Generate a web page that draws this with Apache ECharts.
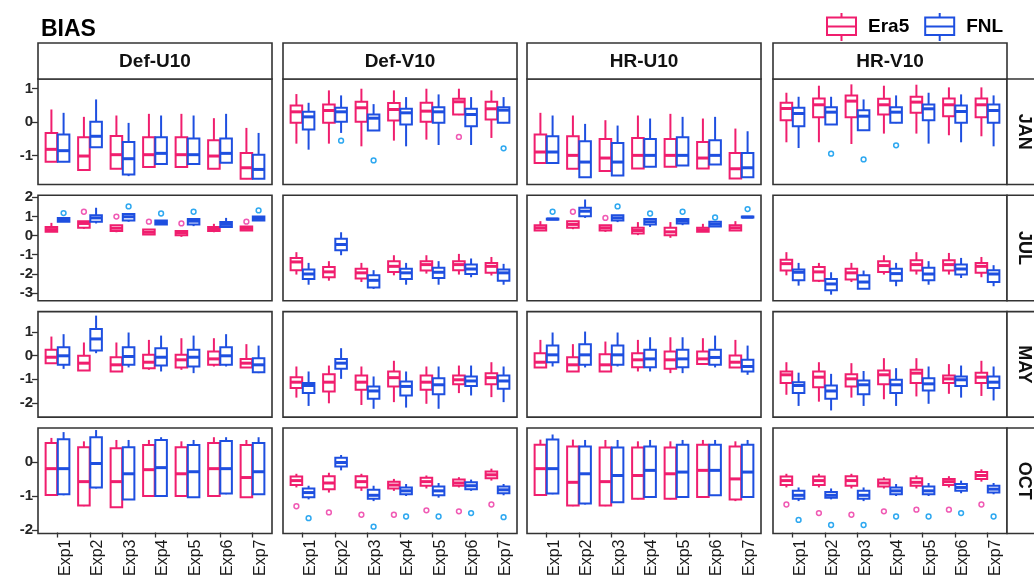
<!DOCTYPE html>
<html><head><meta charset="utf-8">
<script src="https://cdn.jsdelivr.net/npm/echarts@6/dist/echarts.min.js"></script>
<style>html,body{margin:0;padding:0;background:#fff}#c{width:1034px;height:579px}</style>
</head><body><div id="c"></div>
<script>
// ---------------- data ----------------
const experiments = ['Exp1','Exp2','Exp3','Exp4','Exp5','Exp6','Exp7'];
const variables = ['Def-U10','Def-V10','HR-U10','HR-V10'];
const months = ['JAN','JUL','MAY','OCT'];
const seriesNames = ['Era5','FNL'];
const yTicksJAN = [-1,0,1];
const yTicksJUL = [-3,-2,-1,0,1,2];
const yTicksMAY = [-2,-1,0,1];
const yTicksOCT = [-2,-1,0];
// each box: [lower whisker, Q1, median, Q3, upper whisker]
const jan_defu10_era5 = [[-1.2,-1.19,-0.82,-0.33,0.37],[-1.45,-1.44,-1.02,-0.46,0.15],[-1.41,-1.40,-0.98,-0.42,0.19],[-1.36,-1.35,-0.98,-0.46,0.24],[-1.36,-1.35,-0.98,-0.46,0.24],[-1.41,-1.40,-1.02,-0.55,0.11],[-1.71,-1.70,-1.37,-0.93,-0.18]];
const jan_defu10_fnl = [[-1.2,-1.19,-0.86,-0.38,0.27],[-0.78,-0.76,-0.43,0.0,0.67],[-1.62,-1.57,-1.1,-0.6,-0.03],[-1.27,-1.26,-0.94,-0.46,0.19],[-1.27,-1.26,-0.98,-0.5,0.19],[-1.23,-1.22,-0.94,-0.5,0.24],[-1.71,-1.70,-1.42,-0.98,-0.33]];
const jan_defv10_era5 = [[-0.65,-0.03,0.30,0.49,0.83],[-0.65,-0.03,0.34,0.52,0.94],[-0.73,0.0,0.42,0.60,0.99],[-0.56,0.04,0.37,0.56,0.94],[-0.53,0.0,0.32,0.57,0.99],[0.2,0.22,0.60,0.69,0.99],[-0.48,0.07,0.39,0.60,0.94]];
const jan_defv10_fnl = [[-0.83,-0.23,0.15,0.30,0.57],[-0.33,0.0,0.30,0.42,0.79],[-0.27,-0.26,0.11,0.22,0.53],[-0.73,-0.08,0.27,0.39,0.74],[-0.69,-0.03,0.30,0.44,0.82],[-0.69,-0.13,0.22,0.39,0.74],[-0.04,-0.03,0.35,0.44,0.74]];
const jan_hru10_era5 = [[-1.24,-1.23,-0.90,-0.38,0.27],[-1.41,-1.40,-1.0,-0.43,0.19],[-1.48,-1.47,-1.08,-0.51,0.05],[-1.40,-1.39,-1.0,-0.48,0.19],[-1.35,-1.34,-1.0,-0.51,0.24],[-1.40,-1.39,-1.08,-0.60,0.10],[-1.70,-1.69,-1.40,-0.93,-0.20]];
const jan_hru10_fnl = [[-1.24,-1.23,-0.90,-0.43,0.19],[-1.66,-1.65,-1.20,-0.58,-0.06],[-1.61,-1.60,-1.20,-0.63,-0.11],[-1.35,-1.34,-1.0,-0.51,0.10],[-1.31,-1.30,-1.0,-0.46,0.15],[-1.28,-1.27,-1.0,-0.55,0.15],[-1.66,-1.65,-1.37,-0.93,-0.28]];
const jan_hrv10_era5 = [[-0.61,0.05,0.40,0.57,0.87],[-0.61,0.14,0.51,0.70,1.08],[-0.66,0.14,0.62,0.79,1.12],[-0.35,0.22,0.51,0.69,1.08],[-0.35,0.27,0.59,0.75,1.11],[-0.40,0.17,0.51,0.70,1.03],[-0.43,0.14,0.51,0.70,1.03]];
const jan_hrv10_fnl = [[-0.78,-0.13,0.25,0.42,0.75],[-0.09,-0.08,0.29,0.44,0.75],[-0.26,-0.25,0.17,0.35,0.67],[-0.04,-0.03,0.29,0.44,0.79],[-0.65,0.05,0.39,0.52,0.87],[-0.61,-0.03,0.31,0.49,0.82],[-0.73,-0.03,0.34,0.52,0.79]];

const jul_defu10_era5 = [[0.19,0.19,0.31,0.45,0.66],[0.35,0.40,0.63,0.75,0.75],[0.17,0.23,0.38,0.54,0.54],[0.05,0.05,0.17,0.31,0.31],[-0.07,0.02,0.14,0.24,0.24],[0.17,0.23,0.35,0.45,0.61],[0.26,0.26,0.37,0.47,0.47]];
const jul_defu10_fnl = [[0.72,0.72,0.82,0.92,0.92],[0.63,0.72,0.92,1.06,1.45],[0.72,0.79,0.98,1.12,1.13],[0.58,0.58,0.68,0.79,0.79],[0.49,0.58,0.75,0.86,0.86],[0.45,0.45,0.58,0.70,0.92],[0.79,0.79,0.89,0.99,0.99]];
const jul_defv10_era5 = [[-2.04,-1.81,-1.38,-1.17,-0.87],[-2.36,-2.18,-1.90,-1.64,-1.34],[-2.43,-2.25,-1.95,-1.73,-1.43],[-2.08,-1.90,-1.61,-1.34,-1.03],[-1.99,-1.83,-1.52,-1.34,-1.03],[-2.04,-1.81,-1.52,-1.34,-0.96],[-2.09,-1.95,-1.61,-1.43,-1.12]];
const jul_defv10_fnl = [[-2.57,-2.27,-2.01,-1.78,-1.43],[-1.03,-0.77,-0.47,-0.17,0.17],[-2.79,-2.71,-2.34,-2.08,-1.81],[-2.57,-2.27,-1.95,-1.73,-1.43],[-2.57,-2.22,-1.92,-1.69,-1.34],[-2.18,-2.01,-1.75,-1.52,-1.20],[-2.57,-2.36,-1.95,-1.78,-1.48]];
const jul_hru10_era5 = [[0.26,0.26,0.40,0.54,0.75],[0.33,0.40,0.58,0.75,0.75],[0.19,0.26,0.40,0.54,0.54],[0.02,0.10,0.26,0.40,0.70],[-0.12,0.02,0.19,0.40,0.70],[0.19,0.19,0.30,0.40,0.61],[0.26,0.26,0.40,0.54,0.75]];
const jul_hru10_fnl = [[0.82,0.83,0.86,0.88,0.88],[0.92,1.01,1.27,1.45,1.88],[0.70,0.79,0.92,1.06,1.06],[0.45,0.58,0.72,0.86,0.86],[0.54,0.63,0.75,0.86,0.86],[0.47,0.47,0.59,0.72,0.72],[0.93,0.94,0.96,0.99,0.99]];
const jul_hrv10_era5 = [[-2.08,-1.83,-1.47,-1.26,-0.87],[-2.43,-2.36,-1.90,-1.64,-1.43],[-2.43,-2.30,-1.95,-1.73,-1.43],[-2.04,-1.90,-1.57,-1.34,-1.03],[-2.04,-1.83,-1.52,-1.29,-0.87],[-2.04,-1.83,-1.52,-1.29,-0.91],[-2.18,-1.95,-1.61,-1.43,-1.12]];
const jul_hrv10_fnl = [[-2.62,-2.34,-1.92,-1.78,-1.43],[-3.09,-2.86,-2.53,-2.27,-1.92],[-2.78,-2.78,-2.43,-2.08,-1.83],[-2.65,-2.36,-1.99,-1.73,-1.43],[-2.57,-2.34,-2.01,-1.69,-1.34],[-2.22,-2.04,-1.75,-1.52,-1.17],[-2.65,-2.43,-2.01,-1.81,-1.55]];

const may_defu10_era5 = [[-0.33,-0.32,-0.07,0.24,0.80],[-0.64,-0.63,-0.32,-0.01,0.55],[-0.68,-0.67,-0.39,-0.07,0.55],[-0.60,-0.53,-0.28,0.03,0.66],[-0.60,-0.50,-0.18,0.03,0.73],[-0.46,-0.39,-0.14,0.17,0.73],[-0.51,-0.50,-0.32,-0.14,0.48]];
const may_defu10_fnl = [[-0.56,-0.39,-0.01,0.35,0.90],[0.10,0.21,0.70,1.12,1.68],[-0.50,-0.39,-0.04,0.35,0.97],[-0.67,-0.42,-0.07,0.31,0.84],[-0.74,-0.46,-0.07,0.24,0.84],[-0.46,-0.39,-0.01,0.35,0.90],[-0.74,-0.70,-0.39,-0.11,0.42]];
const may_defv10_era5 = [[-1.77,-1.37,-1.12,-0.91,-0.46],[-2.01,-1.51,-1.12,-0.79,-0.42],[-2.08,-1.44,-1.12,-0.84,-0.46],[-1.96,-1.30,-0.93,-0.67,-0.22],[-2.03,-1.44,-1.12,-0.84,-0.46],[-1.58,-1.21,-1.02,-0.84,-0.42],[-1.75,-1.21,-0.93,-0.74,-0.28]];
const may_defv10_fnl = [[-2.12,-1.58,-1.26,-1.16,-0.67],[-0.98,-0.56,-0.32,-0.15,0.31],[-2.24,-1.82,-1.49,-1.30,-0.88],[-2.19,-1.68,-1.30,-1.09,-0.67],[-2.24,-1.63,-1.23,-0.95,-0.46],[-1.68,-1.28,-1.07,-0.88,-0.42],[-1.96,-1.40,-1.07,-0.84,-0.46]];
const may_hru10_era5 = [[-0.51,-0.50,-0.28,0.10,0.66],[-0.68,-0.67,-0.39,-0.07,0.48],[-0.68,-0.67,-0.39,0.06,0.59],[-0.67,-0.49,-0.18,0.10,0.66],[-0.74,-0.56,-0.18,0.17,0.77],[-0.37,-0.36,-0.14,0.17,0.73],[-0.51,-0.50,-0.28,0.0,0.66]];
const may_hru10_fnl = [[-0.46,-0.28,0.03,0.42,0.97],[-0.50,-0.39,0.03,0.48,1.01],[-0.46,-0.39,0.03,0.42,0.97],[-0.67,-0.49,-0.14,0.24,0.77],[-0.74,-0.49,-0.14,0.24,0.77],[-0.50,-0.39,-0.08,0.24,0.84],[-0.81,-0.67,-0.46,-0.18,0.42]];
const may_hrv10_era5 = [[-1.65,-1.16,-0.81,-0.67,-0.28],[-1.94,-1.33,-0.91,-0.67,-0.28],[-1.77,-1.30,-0.98,-0.79,-0.32],[-1.84,-1.21,-0.81,-0.63,-0.11],[-1.72,-1.16,-0.74,-0.60,-0.11],[-1.61,-1.16,-0.98,-0.84,-0.36],[-1.70,-1.16,-0.91,-0.72,-0.22]];
const may_hrv10_fnl = [[-2.12,-1.58,-1.26,-1.12,-0.72],[-2.31,-1.82,-1.49,-1.26,-0.77],[-2.12,-1.63,-1.23,-1.05,-0.65],[-2.12,-1.58,-1.23,-1.02,-0.53],[-2.03,-1.47,-1.19,-0.95,-0.46],[-1.77,-1.28,-1.02,-0.88,-0.42],[-1.89,-1.37,-1.12,-0.88,-0.46]];

const oct_defu10_era5 = [[-1.0,-0.97,-0.2,0.55,0.7],[-1.3,-1.28,-0.58,0.43,0.6],[-1.35,-1.33,-0.58,0.4,0.64],[-1.02,-1.0,-0.23,0.49,0.64],[-1.02,-1.0,-0.35,0.43,0.6],[-1.02,-1.0,-0.2,0.55,0.72],[-1.05,-1.04,-0.46,0.49,0.64]];
const oct_defu10_fnl = [[-0.98,-0.95,-0.2,0.66,0.87],[-0.78,-0.75,-0.05,0.72,0.93],[-1.1,-1.1,-0.35,0.43,0.64],[-1.02,-1.0,-0.17,0.64,0.72],[-1.05,-1.04,-0.29,0.49,0.64],[-0.95,-0.93,-0.2,0.61,0.72],[-0.97,-0.95,-0.29,0.55,0.72]];
const oct_defv10_era5 = [[-0.75,-0.68,-0.55,-0.43,-0.35],[-0.9,-0.8,-0.62,-0.42,-0.32],[-0.85,-0.75,-0.58,-0.42,-0.35],[-0.85,-0.78,-0.68,-0.58,-0.5],[-0.78,-0.7,-0.58,-0.47,-0.4],[-0.75,-0.7,-0.62,-0.52,-0.45],[-0.55,-0.48,-0.38,-0.28,-0.2]];
const oct_defv10_fnl = [[-1.1,-1.04,-0.9,-0.78,-0.7],[-0.25,-0.14,-0.02,0.12,0.2],[-1.15,-1.08,-0.98,-0.82,-0.7],[-1.0,-0.95,-0.85,-0.75,-0.65],[-1.05,-0.98,-0.85,-0.72,-0.62],[-0.85,-0.8,-0.7,-0.6,-0.52],[-0.98,-0.92,-0.82,-0.72,-0.65]];
const oct_hru10_era5 = [[-1.0,-0.97,-0.2,0.5,0.65],[-1.3,-1.28,-0.6,0.45,0.65],[-1.3,-1.28,-0.58,0.42,0.64],[-1.1,-1.08,-0.4,0.42,0.6],[-1.1,-1.08,-0.35,0.42,0.6],[-1.05,-1.03,-0.25,0.5,0.64],[-1.15,-1.1,-0.5,0.45,0.6]];
const oct_hru10_fnl = [[-0.95,-0.93,-0.2,0.65,0.8],[-1.25,-1.22,-0.35,0.45,0.64],[-1.2,-1.18,-0.4,0.42,0.64],[-1.05,-1.03,-0.25,0.45,0.64],[-1.05,-1.03,-0.3,0.5,0.64],[-1.0,-0.98,-0.25,0.5,0.64],[-1.05,-1.03,-0.3,0.5,0.64]];
const oct_hrv10_era5 = [[-0.75,-0.68,-0.55,-0.43,-0.35],[-0.75,-0.68,-0.55,-0.43,-0.35],[-0.78,-0.7,-0.55,-0.42,-0.35],[-0.78,-0.72,-0.62,-0.52,-0.45],[-0.78,-0.7,-0.6,-0.48,-0.4],[-0.75,-0.68,-0.58,-0.5,-0.42],[-0.58,-0.5,-0.4,-0.3,-0.22]];
const oct_hrv10_fnl = [[-1.15,-1.08,-0.98,-0.85,-0.75],[-1.1,-1.05,-0.98,-0.88,-0.78],[-1.15,-1.08,-0.98,-0.85,-0.75],[-1.0,-0.95,-0.85,-0.75,-0.65],[-1.0,-0.95,-0.85,-0.72,-0.62],[-0.92,-0.85,-0.75,-0.65,-0.55],[-0.95,-0.9,-0.8,-0.7,-0.62]];

// outliers: [experiment index, value]
const jan_defv10_era5_out = [[5,-0.45]];
const jan_defv10_fnl_out = [[1,-0.56],[2,-1.15],[6,-0.79]];
const jan_hrv10_fnl_out = [[1,-0.95],[2,-1.12],[3,-0.70]];
const jul_defu10_era5_out = [[1,1.24],[2,0.99],[3,0.72],[4,0.63],[6,0.72]];
const jul_defu10_fnl_out = [[0,1.17],[2,1.52],[3,1.15],[4,1.24],[6,1.31]];
const jul_hru10_era5_out = [[1,1.24],[2,0.92]];
const jul_hru10_fnl_out = [[0,1.24],[2,1.52],[3,1.15],[4,1.24],[5,0.94],[6,1.38]];
const oct_defv10_era5_out = [[0,-1.3],[1,-1.48],[2,-1.55],[3,-1.55],[4,-1.42],[5,-1.45],[6,-1.25]];
const oct_defv10_fnl_out = [[0,-1.65],[2,-1.9],[3,-1.6],[4,-1.6],[5,-1.5],[6,-1.62]];
const oct_hrv10_era5_out = [[0,-1.25],[1,-1.5],[2,-1.55],[3,-1.45],[4,-1.4],[5,-1.4],[6,-1.25]];
const oct_hrv10_fnl_out = [[0,-1.7],[1,-1.85],[2,-1.85],[3,-1.6],[4,-1.6],[5,-1.5],[6,-1.6]];

// ---------------- tables built from the arrays ----------------
const BOX = {
  JAN: [[jan_defu10_era5,jan_defu10_fnl],[jan_defv10_era5,jan_defv10_fnl],[jan_hru10_era5,jan_hru10_fnl],[jan_hrv10_era5,jan_hrv10_fnl]],
  JUL: [[jul_defu10_era5,jul_defu10_fnl],[jul_defv10_era5,jul_defv10_fnl],[jul_hru10_era5,jul_hru10_fnl],[jul_hrv10_era5,jul_hrv10_fnl]],
  MAY: [[may_defu10_era5,may_defu10_fnl],[may_defv10_era5,may_defv10_fnl],[may_hru10_era5,may_hru10_fnl],[may_hrv10_era5,may_hrv10_fnl]],
  OCT: [[oct_defu10_era5,oct_defu10_fnl],[oct_defv10_era5,oct_defv10_fnl],[oct_hru10_era5,oct_hru10_fnl],[oct_hrv10_era5,oct_hrv10_fnl]]
};
const OUT = {
  JAN: [[[],[]],[jan_defv10_era5_out,jan_defv10_fnl_out],[[],[]],[[],jan_hrv10_fnl_out]],
  JUL: [[jul_defu10_era5_out,jul_defu10_fnl_out],[[],[]],[jul_hru10_era5_out,jul_hru10_fnl_out],[[],[]]],
  MAY: [[[],[]],[[],[]],[[],[]],[[],[]]],
  OCT: [[[],[]],[oct_defv10_era5_out,oct_defv10_fnl_out],[[],[]],[oct_hrv10_era5_out,oct_hrv10_fnl_out]]
};
const TICKS = {JAN: yTicksJAN, JUL: yTicksJUL, MAY: yTicksMAY, OCT: yTicksOCT};

// ---------------- layout & style ----------------
const FONT = "'Liberation Sans', Arial, Helvetica, sans-serif";
const PINK = '#F01E6E', BLUE = '#1E4FE0';
const PINK_OUT = '#F05AB4', BLUE_OUT = '#2EA8F0';
const LINE_COL = '#333333';
const COL_LEFT = [38, 283, 527, 773], PANEL_W = 234;
const ROW_TOP = [79, 195.3, 311.6, 428], PANEL_H = 105.5;
const Y_RANGE = [[-1.87, 1.28], [-3.41, 2.10], [-2.59, 1.85], [-2.07, 0.99]];
const INSET = PANEL_W * 0.1 / 7.2;           // discrete-axis expansion of ggplot
const STRIP_TOP = 43, STRIP_H = 36;

function boxRender(side, color) {
  return function (params, api) {
    const i = api.value(0);
    const bw = api.size([1, 0])[0];
    const cx = api.coord([i, 0])[0] + side * bw * 0.1875;
    const hw = bw * 0.178;
    const y = k => api.coord([i, api.value(k)])[1];
    const yLow = y(1), yQ1 = y(2), yMed = y(3), yQ3 = y(4), yHigh = y(5);
    return {
      type: 'group',
      children: [
        {type: 'line', shape: {x1: cx, y1: yQ3, x2: cx, y2: yHigh}, style: {stroke: color, lineWidth: 2}},
        {type: 'line', shape: {x1: cx, y1: yQ1, x2: cx, y2: yLow}, style: {stroke: color, lineWidth: 2}},
        {type: 'rect', shape: {x: cx - hw, y: yQ3, width: 2 * hw, height: Math.max(yQ1 - yQ3, 0.5)}, style: {fill: '#fff', stroke: color, lineWidth: 2}},
        {type: 'line', shape: {x1: cx - hw, y1: yMed, x2: cx + hw, y2: yMed}, style: {stroke: color, lineWidth: 3}}
      ]
    };
  };
}
function outRender(side, color) {
  return function (params, api) {
    const i = api.value(0);
    const bw = api.size([1, 0])[0];
    const p = api.coord([i, api.value(1)]);
    return {type: 'circle', shape: {cx: p[0] + side * bw * 0.1875, cy: p[1], r: 2.4},
            style: {fill: 'none', stroke: color, lineWidth: 1.5}};
  };
}

const grids = [], xAxes = [], yAxes = [], series = [], graphics = [];
months.forEach((m, r) => {
  variables.forEach((v, c) => {
    const idx = r * 4 + c;
    grids.push({left: COL_LEFT[c] + INSET, top: ROW_TOP[r], width: PANEL_W - 2 * INSET, height: PANEL_H});
    xAxes.push({
      type: 'category', gridIndex: idx, data: experiments, boundaryGap: true, position: 'bottom',
      axisLine: {show: false, onZero: false},
      axisTick: {show: r === 3, alignWithLabel: true, interval: 0, length: 5, lineStyle: {color: LINE_COL, width: 1.3}},
      axisLabel: {show: r === 3, interval: 0, rotate: 90, margin: 7, verticalAlign: 'top', fontSize: 16, color: '#1a1a1a', fontFamily: FONT},
      splitLine: {show: false}
    });
    yAxes.push({
      type: 'value', gridIndex: idx, min: Y_RANGE[r][0], max: Y_RANGE[r][1], offset: INSET,
      axisLine: {show: false, onZero: false}, splitLine: {show: false},
      axisTick: {show: c === 0, customValues: TICKS[m], length: 6, lineStyle: {color: LINE_COL, width: 1.3}},
      axisLabel: {show: c === 0, customValues: TICKS[m], margin: 5, fontSize: 15, fontWeight: 'bold', color: '#262626', fontFamily: FONT}
    });
    const colors = [PINK, BLUE], outColors = [PINK_OUT, BLUE_OUT], sides = [-1, 1];
    [0, 1].forEach(s => {
      series.push({
        type: 'custom', name: seriesNames[s], xAxisIndex: idx, yAxisIndex: idx,
        itemStyle: {color: colors[s]},
        renderItem: boxRender(sides[s], colors[s]),
        encode: {x: 0, y: [1, 2, 3, 4, 5]},
        data: BOX[m][c][s].map((d, i) => [i].concat(d)), z: 3
      });
      const od = OUT[m][c][s];
      if (od.length) {
        series.push({
          type: 'custom', name: seriesNames[s], xAxisIndex: idx, yAxisIndex: idx,
          itemStyle: {color: colors[s]},
          renderItem: outRender(sides[s], outColors[s]),
          encode: {x: 0, y: 1}, data: od, z: 3
        });
      }
    });
    graphics.push({type: 'rect', z: 100, silent: true,
      shape: {x: COL_LEFT[c], y: ROW_TOP[r], width: PANEL_W, height: PANEL_H},
      style: {fill: 'none', stroke: LINE_COL, lineWidth: 1.6}});
  });
});
// top strips
variables.forEach((v, c) => {
  graphics.push({type: 'rect', z: 100, silent: true,
    shape: {x: COL_LEFT[c], y: STRIP_TOP, width: PANEL_W, height: STRIP_H},
    style: {fill: '#fff', stroke: LINE_COL, lineWidth: 1.6}});
  graphics.push({type: 'text', z: 101, silent: true, x: COL_LEFT[c] + PANEL_W / 2, y: STRIP_TOP + STRIP_H / 2 + 0.5,
    style: {text: v, align: 'center', verticalAlign: 'middle', fontSize: 19, fontWeight: 'bold', fontFamily: FONT, fill: '#111'}});
});
// right strips
months.forEach((m, r) => {
  graphics.push({type: 'rect', z: 100, silent: true,
    shape: {x: 1007, y: ROW_TOP[r], width: 40, height: PANEL_H},
    style: {fill: '#fff', stroke: LINE_COL, lineWidth: 1.6}});
  graphics.push({type: 'text', z: 101, silent: true, x: 1023.5, y: ROW_TOP[r] + PANEL_H / 2, rotation: -Math.PI / 2,
    style: {text: m, align: 'center', verticalAlign: 'middle', fontSize: 18, fontWeight: 'bold', fontFamily: FONT, fill: '#111'}});
});

const ICON = 'path://M14.5,0L14.5,4.4M0,4.4L29,4.4L29,22L0,22ZM0,13.4L29,13.4M14.5,22L14.5,28';
const option = {
  animation: false,
  backgroundColor: '#fff',
  title: {text: 'BIAS', left: 41, top: 18, padding: 0,
    textStyle: {fontSize: 23, fontWeight: 'bold', color: '#000', fontFamily: FONT}},
  legend: {
    left: 826, top: 12, padding: 0, itemWidth: 29, itemHeight: 28, itemGap: 15, selectedMode: false,
    textStyle: {fontSize: 19, fontWeight: 'bold', color: '#000', fontFamily: FONT, padding: [0, 0, 0, 7]},
    data: [
      {name: 'Era5', icon: ICON, itemStyle: {color: '#fff', borderColor: PINK, borderWidth: 2}},
      {name: 'FNL', icon: ICON, itemStyle: {color: '#fff', borderColor: BLUE, borderWidth: 2}}
    ]
  },
  grid: grids, xAxis: xAxes, yAxis: yAxes, series: series, graphic: graphics
};
const chart = echarts.init(document.getElementById('c'), null, {renderer: 'canvas'});
chart.setOption(option);
</script></body></html>
